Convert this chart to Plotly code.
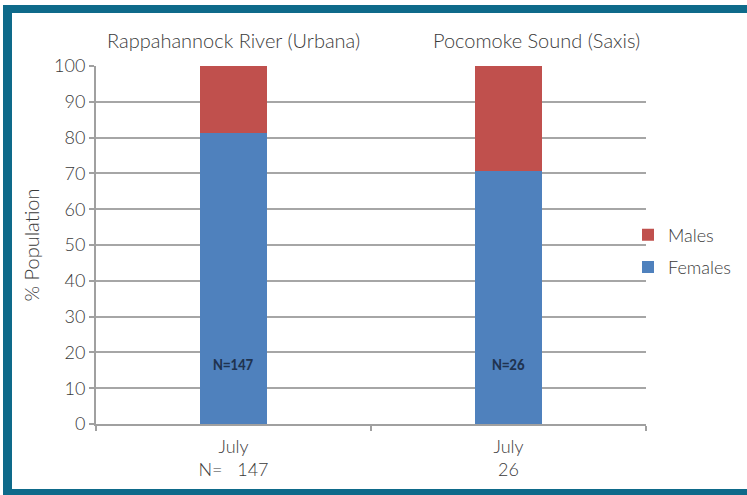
import plotly.graph_objects as go

categories = ["July<br>N=\u00a0\u00a0\u00a0147", "July<br>26"]
sites = ["Rappahannock River (Urbana)", "Pocomoke Sound (Saxis)"]
females = [81.4, 70.6]
males = [18.6, 29.4]
n_labels = ["N=147", "N=26"]

W, H = 747, 495
L, R, T, B = 96, 646, 66, 424

def px(x):
    return (x - L) / (R - L)

def py(y):
    return (B - y) / (B - T)

font = "Lato, 'Open Sans', sans-serif"
txt = "#3a3a3a"
teal = "#0E6A8A"

fig = go.Figure()
fig.add_trace(go.Bar(x=categories, y=females, name="Females", marker_color="#4F81BD",
                     marker_line_width=0, legendgroup="f", legendrank=2))
fig.add_trace(go.Bar(x=categories, y=males, name="Males", marker_color="#C0504D",
                     marker_line_width=0, legendgroup="m", legendrank=1))

site_x = [233, 536]
for sx, s in zip(site_x, sites):
    fig.add_annotation(x=px(sx), xref="paper", xanchor="center", y=py(40), yref="paper",
                       yanchor="middle", text=s, showarrow=False,
                       font=dict(family=font, size=20, color=txt, weight=300))
for c, n in zip(categories, n_labels):
    fig.add_annotation(x=c, y=16.5, text="<b>" + n + "</b>", showarrow=False,
                       font=dict(family="Carlito, 'Liberation Sans', Arial", size=15, color="#1F3350"))

# frame (top, left, bottom bands)
def band(x0, x1, y0, y1):
    fig.add_shape(type="rect", xref="paper", yref="paper",
                  x0=px(x0), x1=px(x1), y0=py(y0), y1=py(y1),
                  line=dict(width=0), fillcolor=teal, layer="below")

band(3, 760, 5, 13)
band(3, 12, 5, 500)
band(3, 760, 489, 500)

fig.update_layout(
    width=W, height=H,
    margin=dict(l=L, r=W - R, t=T, b=H - B, autoexpand=False),
    barmode="stack", bargap=0.756,
    paper_bgcolor="white", plot_bgcolor="white",
    font=dict(family=font, size=17, color=txt, weight=300),
    showlegend=True,
    legend=dict(x=px(628), y=py(251), xanchor="left", yanchor="middle",
                traceorder="grouped", font=dict(size=18, color=txt, weight=300),
                itemwidth=30, tracegroupgap=6, bgcolor="rgba(0,0,0,0)"),
    xaxis=dict(type="category", showline=True, linecolor="#A0A0A0", linewidth=2,
               ticks="outside", tickson="boundaries", ticklen=5, tickcolor="#A0A0A0",
               tickwidth=2, showgrid=False, ticklabelstandoff=5,
               tickfont=dict(size=18, color=txt, weight=300)),
    yaxis=dict(range=[0, 100], dtick=10, showline=True, linecolor="#A0A0A0", linewidth=2,
               ticks="outside", ticklen=5, tickcolor="#A0A0A0", tickwidth=2,
               showgrid=True, gridcolor="#A6A6A6", gridwidth=1.8, zeroline=False,
               tickfont=dict(size=18, color=txt, weight=300),
               title=dict(text="% Population", font=dict(size=20, color=txt, weight=300),
                          standoff=9)),
)

fig.write_html("out.html", config={"displayModeBar": False},
               post_script="document.body.style.margin='0';document.body.style.overflow='hidden';")
